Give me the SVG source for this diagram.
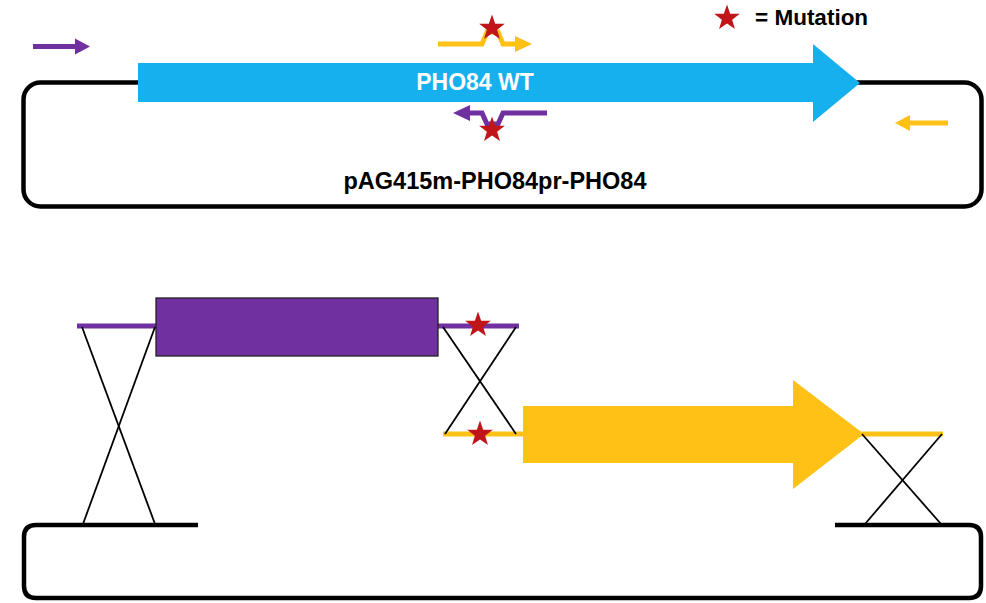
<svg xmlns="http://www.w3.org/2000/svg" xmlns:xlink="http://www.w3.org/1999/xlink" width="986" height="603" viewBox="0 0 986 603">
<style>
.bb{fill:none;stroke:#000;stroke-width:4.5;stroke-linejoin:round}
.x{stroke:#000;stroke-width:1.8;fill:none}
.pl{stroke:#7030A0;stroke-width:5;fill:none}
.ol{stroke:#FFC116;stroke-width:5;fill:none}
.txt{font-family:"Liberation Sans",Arial,sans-serif;font-weight:bold}
</style>
<defs>
<polygon id="star" fill="#C0161A" points="0,-13.5 3.17,-4.37 12.84,-4.17 5.14,1.67 7.93,10.92 0,5.4 -7.93,10.92 -5.14,1.67 -12.84,-4.17 -3.17,-4.37"/>
</defs>
<rect width="986" height="603" fill="#fff"/>

<g id="plasmid-top">
<rect class="bb" x="23.5" y="82.5" width="958" height="124" rx="17"/>
<text class="txt" x="495" y="189" font-size="23.5" text-anchor="middle" fill="#000">pAG415m-PHO84pr-PHO84</text>
</g>

<g id="gene-wt">
<polygon fill="#17B0EF" points="138,63 813,63 813,44 860,83 813,122 813,102 138,102"/>
<text class="txt" x="475" y="90" font-size="23" text-anchor="middle" fill="#fff">PHO84 WT</text>
</g>

<g id="primer-purple-fwd">
<line class="pl" x1="33" y1="46.5" x2="76" y2="46.5"/>
<polygon fill="#7030A0" points="75,38.5 90,46.5 75,54.5"/>
</g>

<g id="primer-orange-mut">
<path class="ol" d="M438,44 H482 L487,32 H498 L503,44 H517"/>
<polygon fill="#FFC116" points="515,36 532,44 515,52"/>
<use xlink:href="#star" x="492" y="28"/>
</g>

<g id="primer-purple-mut">
<path class="pl" d="M547,113 H503 L498,124 H487 L482,113 H469"/>
<polygon fill="#7030A0" points="470,105 453,113 470,121"/>
<use xlink:href="#star" x="492" y="130"/>
</g>

<g id="primer-orange-rev">
<line class="ol" x1="948" y1="123" x2="908" y2="123"/>
<polygon fill="#FFC116" points="910,115 895,123 910,131"/>
</g>

<g id="legend">
<use xlink:href="#star" x="727" y="18"/>
<text class="txt" x="755" y="25" font-size="22.5" fill="#000">= Mutation</text>
</g>

<g id="plasmid-bottom">
<path class="bb" d="M198,525 H36 Q24,525 24,537 V586 Q24,598 36,598 H969 Q981,598 981,586 V537 Q981,525 969,525 H835"/>
</g>

<g id="purple-marker">
<line class="pl" x1="77" y1="326" x2="158" y2="326"/>
<line class="pl" x1="436" y1="326" x2="519" y2="326"/>
<rect x="156" y="298" width="282" height="58" fill="#7030A0" stroke="#222" stroke-width="1.3"/>
</g>

<g id="orange-gene">
<line class="ol" x1="443" y1="434" x2="525" y2="434"/>
<line class="ol" x1="860" y1="434" x2="943" y2="434"/>
<polygon fill="#FFC116" points="523,406 793,406 793,380 864,434 793,489 793,463 523,463"/>
</g>

<g id="connectors">
<line class="x" x1="82" y1="327" x2="155" y2="524"/>
<line class="x" x1="155" y1="327" x2="83" y2="524"/>
<line class="x" x1="443" y1="327" x2="516" y2="434"/>
<line class="x" x1="516" y1="327" x2="445" y2="434"/>
<line class="x" x1="862" y1="434" x2="941" y2="524"/>
<line class="x" x1="942" y1="434" x2="865" y2="524"/>
</g>

<g id="mutations">
<use xlink:href="#star" x="478" y="325"/>
<use xlink:href="#star" x="480" y="434"/>
</g>
</svg>
